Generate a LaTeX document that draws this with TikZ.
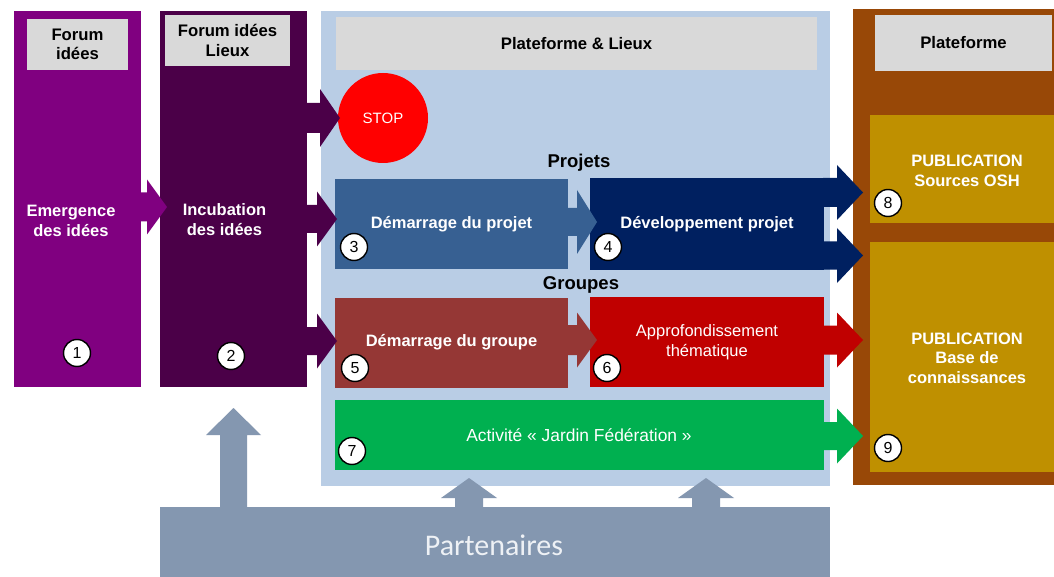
\documentclass[tikz,border=0pt]{standalone}
\usepackage{fontspec}
\setmainfont{Liberation Sans}
\newfontfamily\calibf{Carlito}
\definecolor{cPurple}{HTML}{800080}
\definecolor{cDark}{HTML}{4B0048}
\definecolor{cLight}{HTML}{B9CDE5}
\definecolor{cGray}{HTML}{D9D9D9}
\definecolor{cSteel}{HTML}{376092}
\definecolor{cNavy}{HTML}{002060}
\definecolor{cRust}{HTML}{953735}
\definecolor{cRed}{HTML}{C00000}
\definecolor{cGreen}{HTML}{00B050}
\definecolor{cBrown}{HTML}{984807}
\definecolor{cGold}{HTML}{BF9000}
\definecolor{cPart}{HTML}{8497B0}
\definecolor{cPartTxt}{HTML}{EEF1F5}
% right block arrow: color, x start, x head base, x tip, y center, shaft half, head half
\newcommand\rblockarrow[7]{%
  \fill[#1] (#2,#5-#6) -- (#3,#5-#6) -- (#3,#5-#7) -- (#4,#5) -- (#3,#5+#7) -- (#3,#5+#6) -- (#2,#5+#6) -- cycle;}
% up block arrow: color, x center, y bottom, y head base, y tip, shaft half, head half
\newcommand\ublockarrow[7]{%
  \fill[#1] (#2-#6,#3) -- (#2-#6,#4) -- (#2-#7,#4) -- (#2,#5) -- (#2+#7,#4) -- (#2+#6,#4) -- (#2+#6,#3) -- cycle;}
\begin{document}
\begin{tikzpicture}[x=1pt,y=-1pt,
  panel/.style={inner sep=0pt, outer sep=0pt, anchor=north west},
  titlebox/.style={fill=cGray, inner sep=0pt, outer sep=0pt, align=center,
     font=\fontsize{16.7}{19.5}\selectfont\bfseries, text=black},
  wtxt/.style={text=white, align=center, font=\fontsize{16.5}{19.5}\selectfont\bfseries},
  ntxt/.style={text=white, align=center, font=\fontsize{16.5}{19.5}\selectfont},
  num/.style={circle, draw=black, line width=1.4pt, fill=white, minimum size=27pt,
     inner sep=0pt, font=\fontsize{16}{16}\selectfont}
]
\useasboundingbox (0,0) rectangle (1054,577);
\fill[white] (0,0) rectangle (1054,577);

% background panels
\node[panel, fill=cPurple, minimum width=127pt, minimum height=376pt] (col1) at (14,11) {};
\node[panel, fill=cDark, minimum width=147pt, minimum height=376pt] (col2) at (160,11) {};
\node[panel, fill=cLight, minimum width=509pt, minimum height=475pt] (col3) at (321,11) {};
\node[panel, fill=cBrown, minimum width=201pt, minimum height=476pt] (col4) at (853,9) {};

% title boxes
\node[titlebox, minimum width=101pt, minimum height=51pt] (t1) at (77.5,44.5) {Forum\\idées};
\node[titlebox, minimum width=125pt, minimum height=51pt] (t2) at (227.5,40.5) {Forum idées\\Lieux};
\node[titlebox, minimum width=481pt, minimum height=53pt] (t3) at (576.5,43.5) {Plateforme \& Lieux};
\node[titlebox, minimum width=177pt, minimum height=56pt] (t4) at (963.5,43) {Plateforme};

% column texts
\node[wtxt] (emerg) at (71,221) {Emergence\\des idées};
\node[wtxt] (incub) at (224.5,219.5) {Incubation\\des idées};

% gold boxes
\node[panel, fill=cGold, minimum width=184pt, minimum height=108pt] (pub1) at (870,115) {};
\node[panel, fill=cGold, minimum width=184pt, minimum height=230pt] (pub2) at (870,242) {};
\node[wtxt] at (967,171) {PUBLICATION\\Sources OSH};
\node[wtxt] at (967,358) {PUBLICATION\\Base de\\connaissances};

% STOP
\node[circle, fill=red, minimum size=90pt, inner sep=0pt, text=white,
  font=\fontsize{15}{15}\selectfont] (stop) at (383,118) {STOP};

% section labels
\node[font=\fontsize{18.5}{20}\selectfont\bfseries] (projets) at (579,163) {Projets};
\node[font=\fontsize{18.5}{20}\selectfont\bfseries] (groupes) at (581,285) {Groupes};

% process boxes
\node[fill=cSteel, minimum width=233pt, minimum height=90pt, inner sep=0pt, wtxt] (b3) at (451.5,224) {Démarrage du projet};
\node[fill=cNavy, minimum width=234pt, minimum height=91pt, inner sep=0pt, wtxt] (b4) at (707,224) {Développement projet};
\node[fill=cRust, minimum width=233pt, minimum height=90pt, inner sep=0pt, wtxt] (b5) at (451.5,342.5) {Démarrage du groupe};
\node[fill=cRed, minimum width=234pt, minimum height=90pt, inner sep=0pt, ntxt] (b6) at (707,342) {Approfondissement\\thématique};
\node[fill=cGreen, minimum width=489pt, minimum height=70pt, inner sep=0pt, ntxt,
  font=\fontsize{17.4}{19}\selectfont] (b7) at (579,435) {Activité « Jardin Fédération »};

% partenaires
\node[panel, fill=cPart, minimum width=670pt, minimum height=70pt] (part) at (160,507) {};
\node[text=cPartTxt, font=\calibf\fontsize{30}{32}\selectfont] at (494,545) {Partenaires};

% block arrows
\rblockarrow{cPurple}{141}{147}{167}{207}{14.5}{27.5}
\rblockarrow{cDark}{307}{320}{340}{118}{15}{29}
\rblockarrow{cDark}{307}{317}{337}{219}{14}{27.5}
\rblockarrow{cDark}{307}{317}{337}{341}{14}{27.5}
\rblockarrow{cSteel}{567}{577}{597}{222}{14}{32}
\rblockarrow{cRust}{567}{577}{597}{340}{15}{27.5}
\rblockarrow{cNavy}{823}{837}{863}{192.5}{14.5}{27.5}
\rblockarrow{cNavy}{823}{837}{863}{255.5}{14}{27.5}
\rblockarrow{cRed}{823}{837}{863}{340}{14.5}{27.5}
\rblockarrow{cGreen}{823}{837}{863}{436}{14}{27.5}
\ublockarrow{cPart}{233.5}{508}{435}{408}{13.5}{27.5}
\ublockarrow{cPart}{469}{508}{498}{478}{14}{28}
\ublockarrow{cPart}{706}{508}{498}{478}{14}{28}

% numbered circles
\node[num] (n1) at (77,353) {1};
\node[num] (n2) at (231,356) {2};
\node[num] (n3) at (354,247) {3};
\node[num] (n4) at (608,247) {4};
\node[num] (n5) at (355,368) {5};
\node[num] (n6) at (607,368) {6};
\node[num] (n7) at (352,451) {7};
\node[num] (n8) at (888,203) {8};
\node[num] (n9) at (888,448) {9};
\end{tikzpicture}
\end{document}
